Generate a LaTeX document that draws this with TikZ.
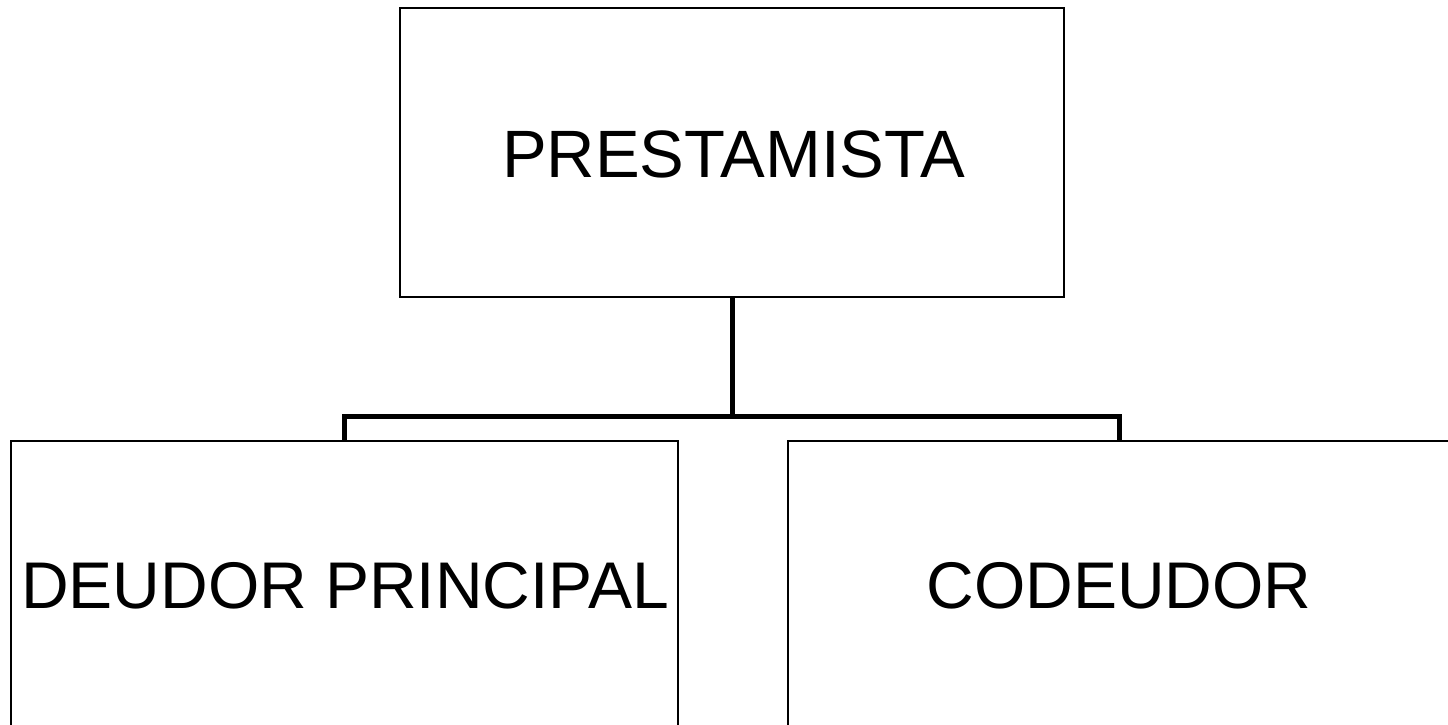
\documentclass[tikz,border=0pt]{standalone}
\usepackage{fontspec}
\setmainfont{Liberation Sans}
\begin{document}
\begin{tikzpicture}[x=1pt,y=-1pt,
  box/.style={draw=black,line width=2pt,rectangle,inner sep=0pt,fill=white},
  txt/.style={inner sep=0pt,font=\fontsize{66}{70}\selectfont},
  conn/.style={line width=5.5pt,line cap=butt,line join=miter}]
\useasboundingbox (0,0) rectangle (1448,725);
\clip (0,0) rectangle (1448,725);
\node[box,minimum width=664pt,minimum height=289pt] (top) at (732,152.5) {};
\node[txt,font=\fontsize{67}{70}\selectfont] (toptext) at (733.5,154) {PRESTAMISTA};
\node[box,minimum width=667pt,minimum height=290pt] (left) at (344.5,586) {};
\node[txt] (lefttext) at (345,586) {DEUDOR PRINCIPAL};
\node[box,minimum width=667pt,minimum height=290pt] (right) at (1121.5,586) {};
\node[txt] (righttext) at (1119,586) {CODEUDOR};
\coordinate (mid) at (732.5,416.5);
\draw[conn] (top.south -| mid) -- (mid);
\draw[conn] (left.north -| 344.5,0) -- (344.5,416.5) -- (1119.5,416.5) -- (right.north -| 1119.5,0);
\end{tikzpicture}
\end{document}
